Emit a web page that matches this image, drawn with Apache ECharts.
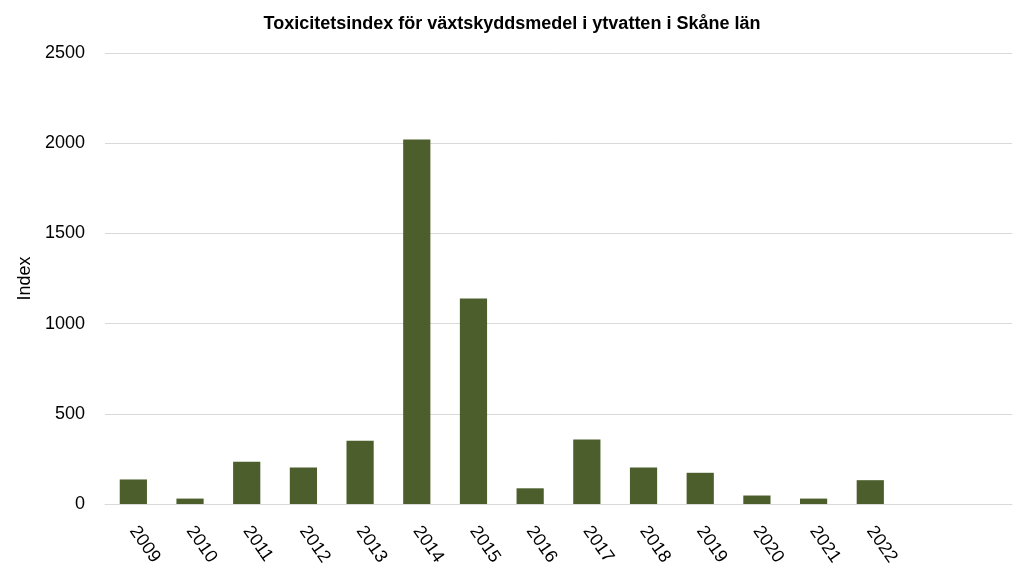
<!DOCTYPE html>
<html>
<head>
<meta charset="utf-8">
<script src="https://cdn.jsdelivr.net/npm/echarts@6/dist/echarts.min.js"></script>
<style>
html,body{margin:0;padding:0;background:#fff;}
#chart{width:1024px;height:576px;}
</style>
</head>
<body>
<div id="chart"></div>
<script>
const titleText = 'Toxicitetsindex för växtskyddsmedel i ytvatten i Skåne län';
const years = ['2009','2010','2011','2012','2013','2014','2015','2016','2017','2018','2019','2020','2021','2022','',' '];
const indexValues = [136, 30, 234, 202, 350, 2020, 1139, 87, 357, 202, 173, 47, 30, 132, null, null];
const yTicks = [0, 500, 1000, 1500, 2000, 2500];

const chart = echarts.init(document.getElementById('chart'));
chart.setOption({
  backgroundColor: '#ffffff',
  animation: false,
  title: {
    text: titleText,
    left: 'center',
    top: 10,
    textStyle: {fontFamily: 'Liberation Sans', fontWeight: 'bold', fontSize: 18, color: '#000'}
  },
  grid: {left: 105, right: 12, top: 53, bottom: 72},
  xAxis: {
    type: 'category',
    data: years,
    axisLine: {lineStyle: {color: '#d9d9d9', width: 1}},
    axisTick: {show: false},
    axisLabel: {
      interval: 0,
      rotate: -55,
      margin: 24,
      fontFamily: 'Liberation Sans',
      fontSize: 18,
      color: '#000'
    }
  },
  yAxis: {
    type: 'value',
    min: yTicks[0],
    max: yTicks[yTicks.length - 1],
    interval: 500,
    name: 'Index',
    nameLocation: 'middle',
    nameGap: 64,
    nameTextStyle: {fontFamily: 'Liberation Sans', fontSize: 18, color: '#000'},
    axisLine: {show: false},
    axisTick: {show: false},
    axisLabel: {fontFamily: 'Liberation Sans', fontSize: 18, color: '#000', margin: 20,
      formatter: function (v) { return String(v); }},
    splitLine: {lineStyle: {color: '#d9d9d9', width: 1}}
  },
  series: [{
    type: 'bar',
    data: indexValues,
    barWidth: '48%',
    itemStyle: {color: '#4b5e2b'}
  }]
});
</script>
</body>
</html>
